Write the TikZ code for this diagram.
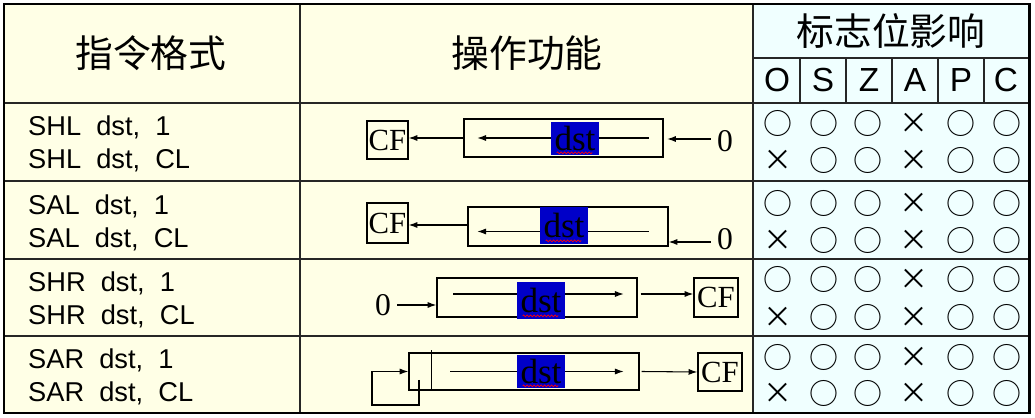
\documentclass[tikz,border=0pt]{standalone}
\usepackage{fontspec}
\setmainfont{Liberation Serif}
\setsansfont{Liberation Sans}
\newfontfamily\cjk{Noto Sans CJK SC}
\usepackage{tikz}
\usetikzlibrary{positioning,arrows.meta,decorations.pathmorphing}
\definecolor{celly}{RGB}{255,255,230}
\definecolor{cellc}{RGB}{240,255,255}
\definecolor{dstblue}{RGB}{0,0,200}
\tikzset{
	>={Latex[length=5pt,width=3.5pt]},
	frame/.style={draw=black, line width=1.7pt},
	rule/.style={draw=black!85, line width=1.1pt},
	thinrule/.style={draw=black!85, line width=0.8pt},
	hdr/.style={font=\cjk\fontsize{21.5}{21.5}\selectfont},
	flag/.style={font=\sffamily\fontsize{19}{19}\selectfont},
	instr/.style={
		font=\sffamily\fontsize{15.5}{18.5}\selectfont,
		align=left,
		anchor=west},
	sym/.style={font=\cjk\fontsize{16.5}{16.5}\selectfont, inner sep=0pt},
	cfbox/.style={
		rectangle,
		draw=black, thick,
		inner sep=0pt,
		font=\fontsize{17.5}{17.5}\selectfont},
	regbox/.style={
		rectangle,
		draw=black, thick,
		minimum height=0.76cm,
		inner sep=0pt},
	dstbox/.style={
		rectangle,
		fill=dstblue,
		minimum width=0.96cm,
		minimum height=0.66cm,
		inner sep=0pt,
		font=\fontsize{20}{20}\selectfont},
	zero/.style={font=\fontsize{18}{18}\selectfont},
	shiftline/.style={draw, line width=0.6pt, ->},
	wavy/.style={draw=red, line width=0.4pt,
		decorate, decoration={zigzag, segment length=2pt, amplitude=0.5pt}},
}

\begin{document}
\begin{tikzpicture}[x=0.02cm, y=-0.02cm]
	\useasboundingbox (0,0) rectangle (1035,418);
	% table
	\fill[celly] (4,4) rectangle (753,413);
	\fill[cellc] (753,4) rectangle (1029,413);
	\foreach \y in {103,181,259,336}
		\draw[rule] (4,\y) -- (1029,\y);
	\draw[rule] (300,4) -- (300,413);
	\draw[rule] (753,4) -- (753,413);
	\draw[thinrule] (753,58) -- (1029,58);
	\foreach \x in {800,846,892,938,984}
		\draw[thinrule] (\x,58) -- (\x,103);
	\draw[frame] (4,4) rectangle (1029,413);

	% headers
	\node[hdr] (hfmt) at (151,53) {指令格式};
	\node[hdr] (hop) at (527,53) {操作功能};
	\node[hdr] (hflag) at (891,31) {标志位影响};
	\foreach \n/\x in {O/777,S/823,Z/869,A/915,P/961,C/1006}
		\node[flag] (h\n) at (\x,80) {\n};

	% instructions
	\node[instr] (i1) at (22,144) {SHL\ \ dst,\ \ 1\\SHL\ \ dst,\ \ CL};
	\node[instr] (i2) at (22,223) {SAL\ \ dst,\ \ 1\\SAL\ \ dst,\ \ CL};
	\node[instr] (i3) at (22,300) {SHR\ \ dst,\ \ 1\\SHR\ \ dst,\ \ CL};
	\node[instr] (i4) at (22,377) {SAR\ \ dst,\ \ 1\\SAR\ \ dst,\ \ CL};

	% SHL
	\node[cfbox, minimum width=0.82cm, minimum height=0.76cm] (cf1) at (387.5,140) {CF};
	\node[regbox, minimum width=3.98cm] (r1) at (563.5,138) {};
	\draw[shiftline] ([xshift=-0.3cm]r1.east) -- ([xshift=0.28cm]r1.west);
	\node[dstbox] (d1) at (575,138.5) {dst};
	\draw[wavy] ([xshift=0.12cm,yshift=0.05cm]d1.south west) -- ([xshift=-0.14cm,yshift=0.05cm]d1.south east);
	\draw[shiftline] (r1.west) -- (r1.west -| cf1.east);
	\node[zero] (z1) at (725,141) {0};
	\draw[shiftline] ([yshift=0.04cm]z1.west) -- ([xshift=2pt,yshift=0.04cm]z1.west -| r1.east);

	% SAL
	\node[cfbox, minimum width=0.82cm, minimum height=0.8cm] (cf2) at (387.5,223) {CF};
	\node[regbox, minimum width=4cm, minimum height=0.78cm] (r2) at (568,226.5) {};
	\draw[shiftline] ([xshift=-0.4cm,yshift=-0.1cm]r2.east) -- ([xshift=0.2cm,yshift=-0.1cm]r2.west);
	\node[dstbox, minimum height=0.74cm] (d2) at (564,225.5) {dst};
	\draw[wavy] ([xshift=0.12cm,yshift=0.07cm]d2.south west) -- ([xshift=-0.14cm,yshift=0.07cm]d2.south east);
	\draw[shiftline] ([yshift=0.03cm]r2.west) -- ([yshift=0.03cm]r2.west -| cf2.east);
	\node[zero] (z2) at (725,239) {0};
	\draw[shiftline] ([yshift=-0.06cm]z2.west) -- ([yshift=-0.06cm]z2.west -| r2.east);

	% SHR
	\node[zero] (z3) at (383,305) {0};
	\node[regbox, minimum width=4cm, minimum height=0.78cm] (r3) at (537,297.5) {};
	\draw[shiftline] ([xshift=0.34cm,yshift=0.07cm]r3.west) -- ([xshift=-0.28cm,yshift=0.07cm]r3.east);
	\node[dstbox, minimum height=0.74cm] (d3) at (541,300.5) {dst};
	\draw[wavy] ([xshift=0.12cm,yshift=0.07cm]d3.south west) -- ([xshift=-0.14cm,yshift=0.07cm]d3.south east);
	\draw[shiftline] (z3.east) -- (z3.east -| r3.west);
	\node[cfbox, minimum width=0.88cm, minimum height=0.78cm] (cf3) at (716,297.5) {CF};
	\draw[shiftline] ([xshift=0.06cm,yshift=0.07cm]r3.east) -- ([yshift=0.07cm]cf3.west);

	% SAR
	\node[regbox, minimum width=4.6cm, minimum height=0.74cm] (r4) at (524,371.5) {};
	\draw[thin] ([xshift=0.46cm,yshift=0.04cm]r4.north west) -- ([xshift=0.46cm,yshift=0.04cm]r4.south west);
	\draw[shiftline] ([xshift=0.84cm]r4.west) -- ([xshift=-0.32cm]r4.east);
	\node[dstbox] (d4) at (541,371.5) {dst};
	\draw[wavy] ([xshift=0.12cm,yshift=0.05cm]d4.south west) -- ([xshift=-0.14cm,yshift=0.05cm]d4.south east);
	\node[cfbox, minimum width=0.88cm, minimum height=0.76cm] (cf4) at (720,372) {CF};
	\draw[shiftline] ([xshift=0.04cm]r4.east) -- (cf4.west);
	\coordinate (sar) at (419,380);
	\draw[shiftline] (sar) |- (372,405) |- (r4.west);

	% flags
	\foreach \r/\ya/\yb in {1/123/160, 2/203/240, 3/279/317, 4/357/393}
		\foreach \c/\x/\fa/\fb in {O/778/○/×, S/824/○/○, Z/868/○/○, A/914/×/×, P/961/○/○, C/1007/○/○}{
			\node[sym] (f\r\c a) at (\x,\ya) {\fa};
			\node[sym] (f\r\c b) at (\x,\yb) {\fb};
		}
\end{tikzpicture}
\end{document}
